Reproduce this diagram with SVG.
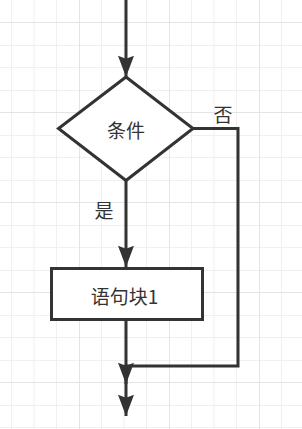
<svg xmlns="http://www.w3.org/2000/svg" width="302" height="429" viewBox="0 0 302 429">
<style>
.g{stroke:#f0f0f0;stroke-width:1}
.gm{stroke:#e4e4e4;stroke-width:1}
.shape{fill:#ffffff;stroke:#333333;stroke-width:3}
.edge{fill:none;stroke:#333333;stroke-width:3}
.t{font-family:"Microsoft YaHei","Noto Sans CJK SC",sans-serif;font-size:19px;fill:#333333;text-anchor:middle;dominant-baseline:central}
</style>
<defs>
<marker id="arr" markerUnits="userSpaceOnUse" markerWidth="22" markerHeight="16" viewBox="0 0 20 15" refX="20" refY="7.5" orient="auto">
<path d="M0,0 L20,7.5 L0,15 L3,7.5 Z" fill="#333333"/>
</marker>
</defs>
<rect width="302" height="429" fill="#ffffff"/>
<g id="grid">
<path class="g" d="M11.5,0V429M34,0V429M56.5,0V429M101.5,0V429M124,0V429M146.5,0V429M191.5,0V429M214,0V429M236.5,0V429M281.5,0V429"/>
<path class="g" d="M0,45.5H302M0,67.5H302M0,90.5H302M0,135.5H302M0,157.5H302M0,180.5H302M0,225.5H302M0,247.5H302M0,270.5H302M0,315.5H302M0,337.5H302M0,360.5H302M0,405.5H302M0,427.5H302"/>
<path class="gm" d="M79.5,0V429M169.5,0V429M259.5,0V429M0,22.5H302M0,112.5H302M0,202.5H302M0,292.5H302M0,382.5H302"/>
</g>
<g id="connectors">
<path class="edge" d="M126,0 V77" marker-end="url(#arr)"/>
<path class="edge" d="M126,181 V267" marker-end="url(#arr)"/>
<path class="edge" d="M193,128.5 H238 V366 H126 V384" marker-end="url(#arr)"/>
<path class="edge" d="M126,320 V416" marker-end="url(#arr)"/>
<text class="t" x="104" y="209">是</text>
<text class="t" x="223" y="113">否</text>
</g>
<g id="cond">
<path class="shape" d="M126,77 L193,128.5 L126,180.5 L58.5,128.5 Z"/>
<text class="t" x="126" y="129">条件</text>
</g>
<g id="block1">
<rect class="shape" x="51.5" y="268.5" width="151" height="51"/>
<text class="t" x="124.5" y="295">语句块1</text>
</g>
</svg>
